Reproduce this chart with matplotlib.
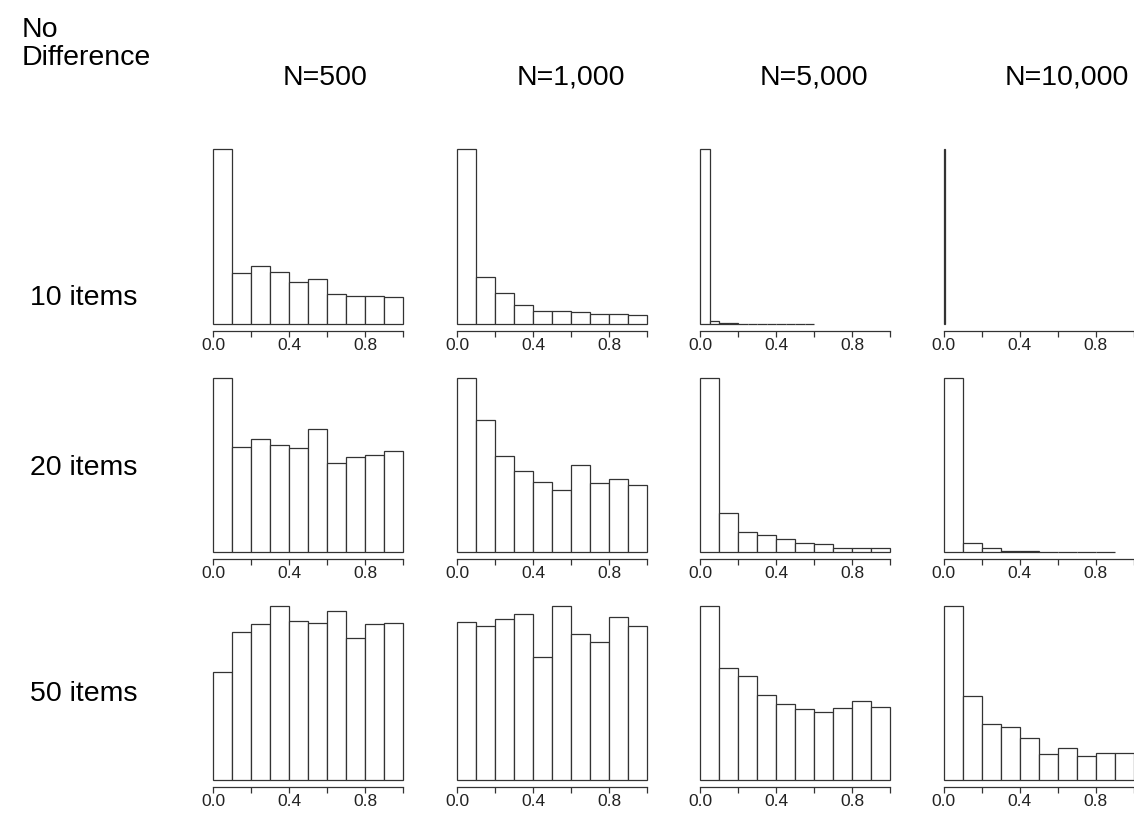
import numpy as np
import matplotlib
matplotlib.use("Agg")
import matplotlib.pyplot as plt

plt.rcParams['font.family'] = ['Liberation Sans', 'DejaVu Sans']

col_titles = ["N=500", "N=1,000", "N=5,000", "N=10,000"]
row_titles = ["10 items", "20 items", "50 items"]

edges_10 = np.linspace(0, 1, 11)
edges_9 = np.linspace(0, 0.9, 10)
edges_fine = np.linspace(0, 0.6, 13)
edges_tiny = np.array([0.0, 0.005])

# relative bar heights (tallest bar = 1)
h_10_500 = [1.0, 0.290, 0.334, 0.300, 0.239, 0.258, 0.174, 0.158, 0.158, 0.155]
h_10_1000 = [1.0, 0.271, 0.176, 0.109, 0.073, 0.073, 0.067, 0.055, 0.059, 0.053]
h_10_5000 = [1.0, 0.019, 0.007, 0.004, 0.002, 0.001, 0.001, 0.0, 0.0, 0.0, 0.0, 0.0]
h_10_10000 = [1.0]

h_20_500 = [1.0, 0.605, 0.649, 0.613, 0.599, 0.708, 0.510, 0.546, 0.559, 0.578]
h_20_1000 = [1.0, 0.758, 0.550, 0.466, 0.401, 0.355, 0.498, 0.397, 0.422, 0.387]
h_20_5000 = [1.0, 0.225, 0.116, 0.097, 0.074, 0.052, 0.048, 0.027, 0.027, 0.027]
h_20_10000 = [1.0, 0.052, 0.023, 0.008, 0.006, 0.002, 0.002, 0.0, 0.0]

h_50_500 = [0.622, 0.850, 0.894, 1.0, 0.911, 0.903, 0.971, 0.816, 0.894, 0.901]
h_50_1000 = [0.909, 0.884, 0.926, 0.952, 0.705, 1.0, 0.838, 0.795, 0.935, 0.884]
h_50_5000 = [1.0, 0.646, 0.599, 0.490, 0.437, 0.411, 0.390, 0.416, 0.452, 0.422]
h_50_10000 = [1.0, 0.483, 0.325, 0.308, 0.241, 0.154, 0.186, 0.139, 0.158, 0.156]

panels = [
    [(edges_10, h_10_500), (edges_10, h_10_1000), (edges_fine, h_10_5000), (edges_tiny, h_10_10000)],
    [(edges_10, h_20_500), (edges_10, h_20_1000), (edges_10, h_20_5000), (edges_9, h_20_10000)],
    [(edges_10, h_50_500), (edges_10, h_50_1000), (edges_10, h_50_5000), (edges_10, h_50_10000)],
]

W, H = 1134, 815
fig = plt.figure(figsize=(W / 100, H / 100), dpi=100)

lefts = [205.4, 449.7, 692.4, 936.1]
tops = [142.3, 370.7, 598.7]
aw, ah = 205.2, 188.7

for r in range(3):
    for c in range(4):
        ax = fig.add_axes([lefts[c] / W, 1 - (tops[r] + ah) / H, aw / W, ah / H])
        edges, hts = panels[r][c]
        edges = np.asarray(edges)
        ax.bar(edges[:-1], hts, width=np.diff(edges), align='edge',
               color='white', edgecolor='#333333', linewidth=0.9)
        ax.set_xlim(-0.04, 1.04)
        ax.set_ylim(-0.04, 1.04)
        for s in ['top', 'right', 'left']:
            ax.spines[s].set_visible(False)
        ax.spines['bottom'].set_bounds(0, 1)
        ax.spines['bottom'].set_linewidth(0.9)
        ax.spines['bottom'].set_color('#333333')
        ax.set_yticks([])
        ax.set_xticks([0, 0.2, 0.4, 0.6, 0.8, 1.0])
        ax.set_xticklabels(["0.0", "", "0.4", "", "0.8", ""])
        ax.tick_params(axis='x', length=4, width=0.9, color='#333333',
                       labelsize=12.5, pad=1, labelcolor='#222222')
        ax.patch.set_visible(False)

title_x = [325, 571, 814, 1067]
for c, t in enumerate(col_titles):
    fig.text(title_x[c] / W, 1 - 78 / H, t, ha='center', va='center', fontsize=20.5)

row_y = [298, 468, 694]
for r, t in enumerate(row_titles):
    fig.text(30 / W, 1 - row_y[r] / H, t, ha='left', va='center', fontsize=20.5)

fig.text(22 / W, 1 - 30 / H, "No", ha='left', va='center', fontsize=20.5)
fig.text(22 / W, 1 - 58 / H, "Difference", ha='left', va='center', fontsize=20.5)

fig.savefig("out.png", dpi=100)
